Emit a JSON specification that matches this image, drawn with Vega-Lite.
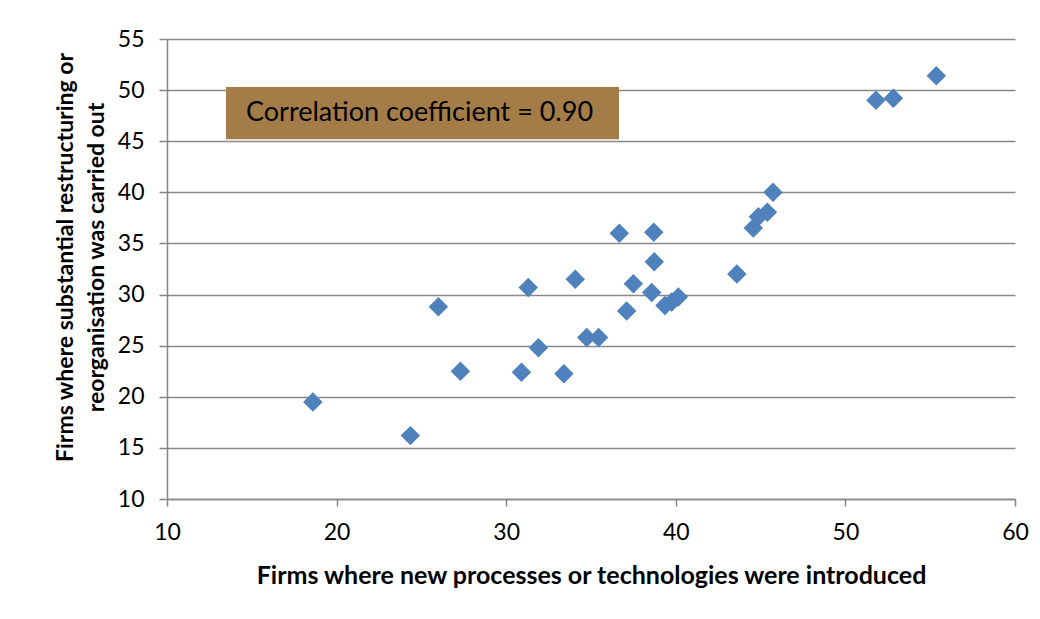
{
  "$schema": "https://vega.github.io/schema/vega-lite/v6.json",
  "width": 848,
  "height": 460,
  "autosize": "none",
  "padding": {"left": 167, "top": 39, "right": 25, "bottom": 120},
  "background": "white",
  "config": {
    "view": {"stroke": null},
    "font": "Lato"
  },
  "datasets": {
    "points": [
      {"tech": 18.6, "restr": 19.5},
      {"tech": 24.35, "restr": 16.2},
      {"tech": 26.0, "restr": 28.8},
      {"tech": 27.3, "restr": 22.5},
      {"tech": 30.9, "restr": 22.4},
      {"tech": 31.3, "restr": 30.7},
      {"tech": 31.9, "restr": 24.8},
      {"tech": 33.4, "restr": 22.25},
      {"tech": 34.07, "restr": 31.5},
      {"tech": 34.75, "restr": 25.8},
      {"tech": 35.45, "restr": 25.8},
      {"tech": 36.67, "restr": 36.0},
      {"tech": 37.1, "restr": 28.4},
      {"tech": 37.5, "restr": 31.05},
      {"tech": 38.58, "restr": 30.2},
      {"tech": 38.7, "restr": 36.1},
      {"tech": 38.73, "restr": 33.2},
      {"tech": 39.36, "restr": 28.93},
      {"tech": 39.76, "restr": 29.26},
      {"tech": 40.15, "restr": 29.75},
      {"tech": 43.6, "restr": 32.0},
      {"tech": 44.57, "restr": 36.5},
      {"tech": 44.87, "restr": 37.6},
      {"tech": 45.4, "restr": 38.06},
      {"tech": 45.73, "restr": 40.0},
      {"tech": 51.8, "restr": 49.0},
      {"tech": 52.83, "restr": 49.2},
      {"tech": 55.36, "restr": 51.4}
    ],
    "note": [
      {"x1": 13.48, "x2": 36.65, "y1": 45.2, "y2": 50.3, "tx": 14.66, "ty": 47.72, "label": "Correlation coefficient = 0.90"}
    ]
  },
  "layer": [
    {
      "data": {"name": "points"},
      "mark": {"type": "point", "shape": "diamond", "filled": true, "size": 380, "color": "#4F81BD", "opacity": 1},
      "encoding": {
        "x": {
          "field": "tech", "type": "quantitative",
          "scale": {"domain": [10, 60], "nice": false, "zero": false},
          "axis": {
            "title": "Firms where new processes or technologies were introduced",
            "values": [10, 20, 30, 40, 50, 60],
            "grid": false,
            "domainColor": "#868686", "domainWidth": 1.5,
            "tickColor": "#868686", "tickWidth": 1.5, "tickSize": 7,
            "labelFont": "Lato", "labelFontSize": 23, "labelColor": "#000000", "labelPadding": 15,
            "labelFlush": false,
            "titleFont": "Lato", "titleFontSize": 25, "titleFontWeight": "bold", "titleColor": "#000000",
            "titleBaseline": "alphabetic", "titleY": 84
          }
        },
        "y": {
          "field": "restr", "type": "quantitative",
          "scale": {"domain": [10, 55], "nice": false, "zero": false},
          "axis": {
            "title": ["Firms where substantial restructuring or", "reorganisation was carried out"],
            "values": [10, 15, 20, 25, 30, 35, 40, 45, 50, 55],
            "grid": true, "gridColor": "#898989", "gridWidth": 1.5,
            "domainColor": "#868686", "domainWidth": 1.5,
            "tickColor": "#868686", "tickWidth": 1.5, "tickSize": 8,
            "labelFont": "Lato", "labelFontSize": 23, "labelColor": "#000000", "labelPadding": 15,
            "labelFlush": false,
            "titleFont": "Lato", "titleFontSize": 23, "titleFontWeight": "bold", "titleColor": "#000000",
            "titleLineHeight": 31, "titleAngle": -90, "titleBaseline": "alphabetic", "titleAlign": "center",
            "titleX": -95, "titleY": 218
          }
        }
      }
    },
    {
      "data": {"name": "note"},
      "mark": {"type": "rect", "color": "#A47C48", "opacity": 1},
      "encoding": {
        "x": {"field": "x1", "type": "quantitative"},
        "x2": {"field": "x2"},
        "y": {"field": "y1", "type": "quantitative"},
        "y2": {"field": "y2"}
      }
    },
    {
      "data": {"name": "note"},
      "mark": {"type": "text", "align": "left", "baseline": "middle", "font": "Lato", "fontSize": 27, "color": "#000000"},
      "encoding": {
        "x": {"field": "tx", "type": "quantitative"},
        "y": {"field": "ty", "type": "quantitative"},
        "text": {"field": "label"}
      }
    }
  ]
}
